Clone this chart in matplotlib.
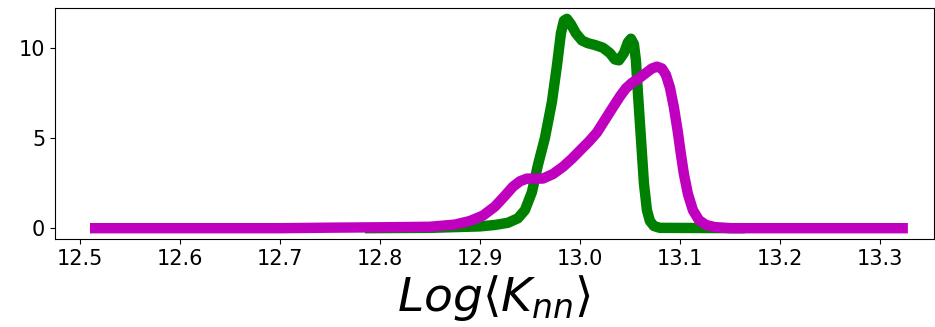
import matplotlib.pyplot as plt
import numpy as np

# green curve
x_green = [12.785, 12.85, 12.9, 12.915, 12.928, 12.938, 12.945, 12.952, 12.958, 12.965,
           12.972, 12.977, 12.981, 12.984, 12.987, 12.991, 12.996, 13.002, 13.008,
           13.015, 13.023, 13.03, 13.035, 13.039, 13.044, 13.048, 13.051, 13.054,
           13.056, 13.058, 13.061, 13.064, 13.067, 13.07, 13.074, 13.08, 13.165]
y_green = [0.0, 0.02, 0.1, 0.18, 0.3, 0.55, 1.0, 2.0, 3.5, 5.0,
           7.0, 9.0, 10.8, 11.5, 11.6, 11.3, 10.8, 10.4, 10.25,
           10.15, 10.0, 9.7, 9.35, 9.3, 9.7, 10.3, 10.5, 10.2,
           9.3, 7.5, 5.0, 2.5, 1.0, 0.4, 0.12, 0.02, 0.0]

# magenta curve
x_mag = [12.51, 12.7, 12.75, 12.8, 12.85, 12.875, 12.89, 12.903, 12.915, 12.925,
         12.933, 12.94, 12.947, 12.955, 12.963, 12.973, 12.983, 12.992, 13.0,
         13.009, 13.017, 13.025, 13.033, 13.04, 13.046, 13.052, 13.059, 13.066,
         13.072, 13.077, 13.082, 13.086, 13.09, 13.094, 13.098, 13.101, 13.104,
         13.108, 13.113, 13.119, 13.126, 13.135, 13.15, 13.328]
y_mag = [0.0, 0.0, 0.03, 0.05, 0.08, 0.2, 0.4, 0.7, 1.2, 1.8,
         2.3, 2.6, 2.75, 2.75, 2.75, 3.0, 3.4, 3.85, 4.3,
         4.8, 5.3, 6.0, 6.7, 7.3, 7.75, 8.05, 8.3, 8.6,
         8.85, 8.95, 8.85, 8.5, 7.8, 6.7, 5.3, 4.1, 3.0,
         1.9, 1.0, 0.45, 0.18, 0.06, 0.0, 0.0]

fig = plt.figure(figsize=(9.35, 3.27), dpi=100)
ax = fig.add_axes([0.0588, 0.269, 0.94, 0.7065])
ax.plot(x_green, y_green, color='g', lw=7.5, solid_joinstyle='round', solid_capstyle='butt')
ax.plot(x_mag, y_mag, color='m', lw=7.5, solid_joinstyle='round', solid_capstyle='butt')

ax.set_xlim(12.475, 13.354)
ax.set_ylim(-0.6, 12.2)
ax.set_xticks(np.arange(12.5, 13.35, 0.1))
ax.set_yticks([0, 5, 10])
ax.tick_params(labelsize=15)
ax.set_xlabel(r'$Log\langle K_{nn}\rangle$', fontsize=34, labelpad=3)

plt.savefig('out.png')
